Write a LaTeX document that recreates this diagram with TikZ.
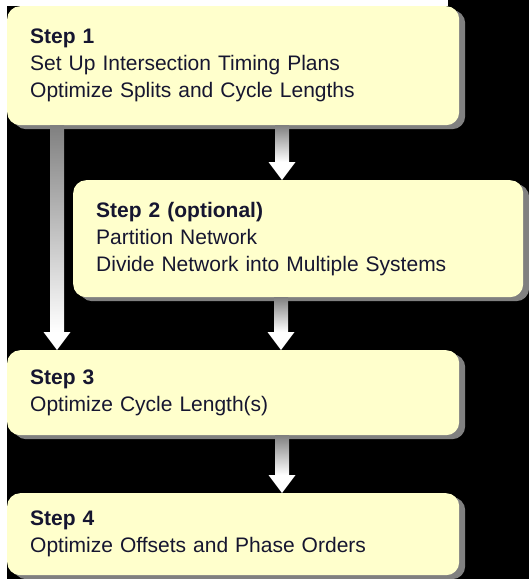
\documentclass[tikz,border=0pt]{standalone}
\usepackage{fontspec}
\setmainfont{Liberation Sans}
\usetikzlibrary{calc,shadows}
\definecolor{boxyellow}{RGB}{255,255,204}
\definecolor{shadowgray}{RGB}{128,128,128}
\definecolor{stepnavy}{RGB}{22,22,48}

\begin{document}
\begin{tikzpicture}[x=1pt,y=1pt,
    stepbox/.style={fill=boxyellow, rounded corners=13pt, anchor=north west,
        inner xsep=23pt, align=left, text=stepnavy,
        font=\fontsize{21}{27}\selectfont,
        drop shadow={shadow xshift=6pt, shadow yshift=-4pt, fill=shadowgray, opacity=1}},
    shaft/.style={top color=shadowgray, bottom color=white}]
    \useasboundingbox (0,0) rectangle (529,-579);
    % background
    \fill[black] (0,0) rectangle (529,-579);
    \fill[white] (0,0) rectangle (7,-579);
    \fill[white] (0,0) rectangle (448,-6);
    % steps
    \node[stepbox, text width=406pt, minimum height=119pt] (s1) at (7,-6)
        {\textbf{Step 1}\\Set Up Intersection Timing Plans\\Optimize Splits and Cycle Lengths};
    \node[stepbox, text width=404pt, minimum height=117pt] (s2) at (73,-180)
        {\textbf{Step 2 (optional)}\\Partition Network\\Divide Network into Multiple Systems};
    \node[stepbox, text width=406pt, minimum height=85pt] (s3) at (7,-350)
        {\textbf{Step 3}\\Optimize Cycle Length(s)};
    \node[stepbox, text width=406pt, minimum height=82pt] (s4) at (7,-493)
        {\textbf{Step 4}\\Optimize Offsets and Phase Orders};
    % arrows: shaded shaft, white head
    \foreach \a/\b/\x in {s1/s2/282, s2/s3/281, s3/s4/282, s1/s3/57} {
        \shade[shaft] ($(\a.south -| \x,0)+(-7,0)$) rectangle ($(\b.north -| \x,0)+(7,18)$);
        \fill[white] ($(\b.north -| \x,0)+(-13.5,18)$) -- ($(\b.north -| \x,0)+(13.5,18)$)
            -- (\b.north -| \x,0) -- cycle;
    }
\end{tikzpicture}
\end{document}
